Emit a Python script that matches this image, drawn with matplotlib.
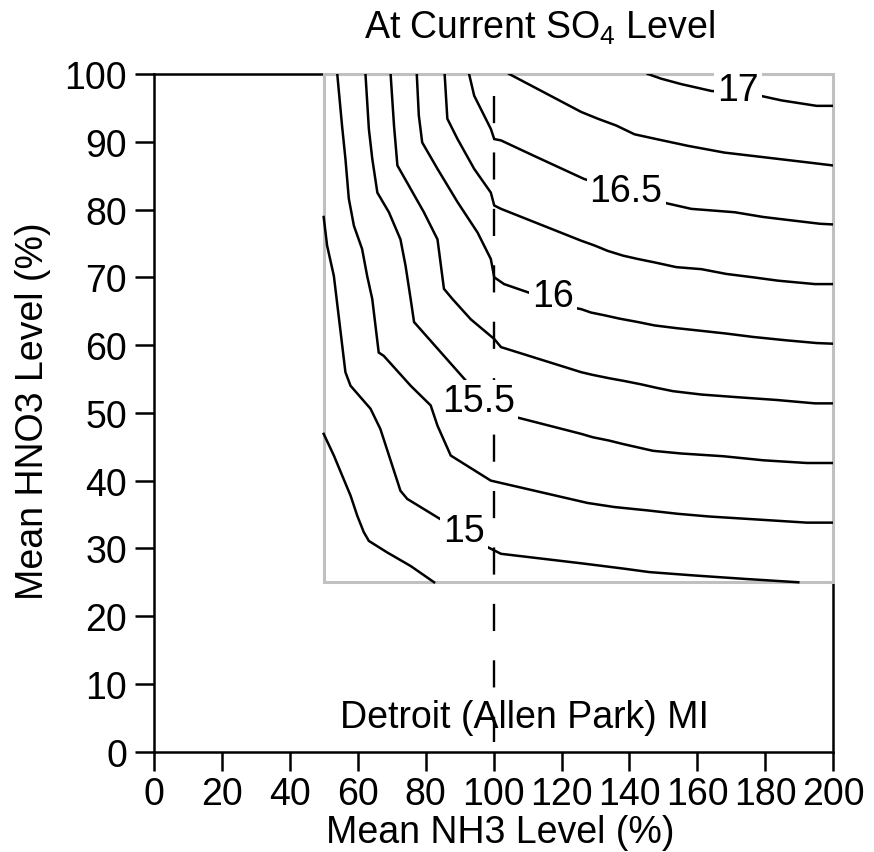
import matplotlib
matplotlib.use("Agg")
import matplotlib.pyplot as plt
from matplotlib.patches import Rectangle

plt.rcParams['font.family'] = ['Liberation Sans', 'DejaVu Sans']
plt.rcParams['font.size'] = 27

# Contour levels of the response surface and their isolines (NH3 %, HNO3 %)
levels = [14.75, 15.0, 15.25, 15.5, 15.75, 16.0, 16.25, 16.5, 16.75, 17.0]

nh3_1475 = [50.0, 53.0, 55.9, 57.9, 59.9, 61.8, 63.3, 68.7, 75.6, 82.5]
hno3_1475 = [46.9, 43.7, 40.2, 37.8, 34.8, 32.4, 31.1, 29.4, 27.4, 25.0]

nh3_1500 = [50.0, 51.0, 53.0, 56.4, 57.9, 63.8, 66.7, 72.6, 74.6, 84.4, 98.2,
            100.2, 102.2, 125.8, 132.2, 138.5, 145.9, 159.2, 173.9, 189.7]
hno3_1500 = [78.9, 74.7, 70.2, 56.0, 54.0, 50.6, 47.6, 38.5, 37.3, 34.3, 30.2,
             29.7, 29.2, 27.8, 27.4, 27.0, 26.5, 26.0, 25.5, 25.0]

nh3_1525 = [54.0, 55.4, 56.4, 57.4, 58.9, 61.3, 62.8, 64.3, 66.2, 67.7, 75.6,
            81.5, 83.5, 87.4, 99.2, 127.7, 135.6, 145.4, 154.3, 163.6,
            176.4, 192.2, 200.0]
hno3_1525 = [100.0, 92.4, 87.5, 81.6, 77.6, 74.2, 70.2, 66.8, 58.9, 58.4, 54.0,
             51.1, 48.1, 43.7, 40.0, 36.7, 36.1, 35.6, 35.1, 34.7,
             34.3, 33.8, 33.8]

nh3_1550 = [62.3, 63.3, 64.3, 65.8, 69.2, 72.6, 74.1, 75.6, 76.6, 92.3, 107.1,
            125.8, 129.2, 134.1, 138.1, 142.5, 146.9, 155.3, 167.6, 179.4,
            192.2, 200.0]
hno3_1550 = [100.0, 91.9, 87.5, 82.5, 79.6, 75.6, 71.7, 66.8, 63.4, 54.5, 49.3,
             46.9, 46.4, 45.9, 45.4, 44.9, 44.4, 44.0, 43.6, 43.0,
             42.6, 42.6]

nh3_1575 = [69.7, 70.7, 71.7, 79.5, 83.5, 85.4, 87.9, 93.3, 100.2, 102.2,
            125.8, 129.2, 134.1, 138.5, 143.5, 147.9, 152.8, 161.2, 172.0,
            183.3, 194.6, 200.0]
hno3_1575 = [100.0, 92.4, 86.5, 79.6, 75.6, 68.3, 66.8, 63.8, 60.9, 59.7,
             56.0, 55.6, 55.1, 54.7, 54.2, 53.7, 53.2, 52.7, 52.3,
             51.9, 51.4, 51.4]

nh3_1600 = [77.4, 78.0, 79.0, 83.5, 89.4, 95.3, 99.2, 100.2, 103.1, 122.8,
            125.8, 128.7, 132.6, 137.1, 142.5, 147.4, 153.8, 161.2, 168.5,
            176.4, 186.2, 195.1, 200.0]
hno3_1600 = [100.0, 93.9, 89.9, 86.0, 81.1, 76.6, 72.7, 70.0, 69.0, 65.6,
             65.3, 64.8, 64.4, 63.9, 63.4, 62.9, 62.5, 62.1, 61.7,
             61.2, 60.7, 60.3, 60.2]

nh3_1625 = [85.6, 86.4, 89.4, 94.3, 99.2, 100.2, 102.2, 125.8, 129.7, 133.6,
            138.1, 142.5, 147.4, 153.8, 161.2, 168.5, 176.4, 183.8, 194.6, 200.0]
hno3_1625 = [100.0, 93.4, 90.4, 86.0, 82.5, 80.6, 80.1, 75.4, 74.7, 73.9,
             73.2, 72.7, 72.2, 71.5, 71.2, 70.5, 70.0, 69.5, 69.0, 69.0]

nh3_1650 = [92.8, 94.3, 99.2, 100.2, 102.2, 112.0, 126.7, 149.4, 158.2, 171.0,
            179.4, 187.7, 196.1, 200.0]
hno3_1650 = [100.0, 96.8, 91.9, 90.4, 90.2, 87.9, 84.5, 81.1, 80.1, 79.6,
             78.9, 78.4, 77.9, 77.8]

nh3_1675 = [104.6, 125.8, 130.7, 136.1, 141.5, 147.9, 157.2, 168.0, 179.9,
            191.7, 200.0]
hno3_1675 = [100.0, 94.4, 93.4, 92.4, 91.1, 90.4, 89.4, 88.4, 87.7,
             87.0, 86.5]

nh3_1700 = [145.4, 149.4, 155.3, 164.1, 178.4, 184.8, 195.1, 200.0]
hno3_1700 = [100.0, 99.3, 98.5, 97.5, 96.8, 96.1, 95.3, 95.3]

isolines = [
    (nh3_1475, hno3_1475), (nh3_1500, hno3_1500), (nh3_1525, hno3_1525),
    (nh3_1550, hno3_1550), (nh3_1575, hno3_1575), (nh3_1600, hno3_1600),
    (nh3_1625, hno3_1625), (nh3_1650, hno3_1650), (nh3_1675, hno3_1675),
    (nh3_1700, hno3_1700),
]

# Inline labels placed on selected isolines
label_levels = [15.0, 15.5, 16.0, 16.5, 17.0]
label_nh3 = [91.2, 95.7, 117.4, 139.0, 171.9]
label_hno3 = [32.5, 51.8, 67.3, 82.7, 97.6]

# Model domain and the current-NH3 reference level
domain_nh3 = [50, 200]
domain_hno3 = [25, 100]
current_nh3 = 100
current_line_hno3 = [96.8, 1.4]

x_ticks = list(range(0, 201, 20))
y_ticks = list(range(0, 101, 10))

W, H = 874, 853
fig = plt.figure(figsize=(W / 100, H / 100), dpi=100)
ax = fig.add_axes([153.8 / W, (H - 752.7) / H, (833.3 - 153.8) / W, (752.7 - 75.0) / H])

ax.set_xlim(0, 200)
ax.set_ylim(0, 100)

for xs, ys in isolines:
    ax.plot(xs, ys, color='black', lw=1.8, solid_joinstyle='miter', zorder=4)

# gray frame around the modelled region
ax.add_patch(Rectangle((domain_nh3[0], domain_hno3[0]),
                       domain_nh3[1] - domain_nh3[0],
                       domain_hno3[1] - domain_hno3[0],
                       fill=False, edgecolor='#c0c0c0', lw=2.2,
                       clip_on=False, zorder=3))

ax.plot([current_nh3, current_nh3], current_line_hno3, color='black', lw=1.7,
        linestyle=(0, (11.5, 12.4)), zorder=4)

for lev, lx, ly in zip(label_levels, label_nh3, label_hno3):
    ax.text(lx, ly, f"{lev:g}", ha='center', va='center', zorder=5,
            bbox=dict(boxstyle='square,pad=0.08', fc='white', ec='none'))

ax.text(109.1, 3.7, "Detroit (Allen Park) MI", ha='center', va='baseline', zorder=5)

for s in ax.spines.values():
    s.set_linewidth(1.8)
    s.set_color('black')

ax.set_xticks(x_ticks)
ax.set_yticks(y_ticks)
ax.tick_params(axis='both', direction='out', length=13.7, width=1.8, labelsize=27)
ax.tick_params(axis='x', pad=3.5)
ax.tick_params(axis='y', pad=5.5)

fig.text(539 / W, 1 - 38.3 / H, r"At Current SO$\mathregular{_4}$ Level",
         ha='center', va='baseline')
fig.text(500 / W, 1 - 843 / H, "Mean NH3 Level (%)", ha='center', va='baseline')
fig.text(33 / W, 1 - 411 / H, "Mean HNO3 Level (%)", ha='center', va='center',
         rotation=90)

fig.savefig("out.png", dpi=100)
